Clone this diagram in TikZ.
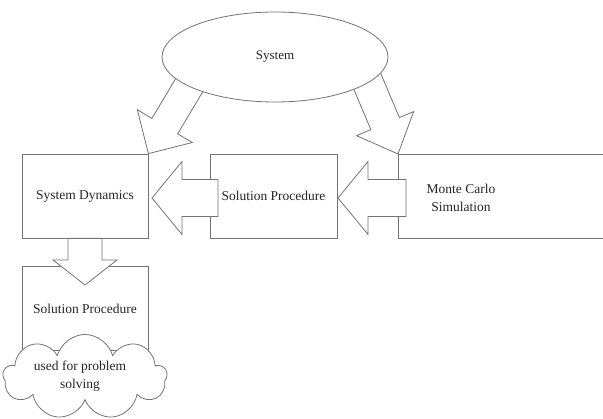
\documentclass[tikz,border=0pt]{standalone}
\usepackage{fontspec}
\setmainfont{Liberation Serif}
\usetikzlibrary{shapes.geometric,shapes.symbols,calc}
\tikzset{
  box/.style = {
    draw=black!55, line width=0.8pt, fill=white,
    minimum width=126, minimum height=84, inner sep=0pt,
    text=black!85, font=\fontsize{13.5}{17}\selectfont
  },
  blockarrow/.style = {draw=black!55, line width=0.8pt, fill=white, line join=miter},
  label/.style = {text=black!85, align=center, inner sep=0pt, font=\fontsize{13.5}{17.5}\selectfont}
}
% block arrow: tail, tip, shaft half width, head half width, head length
\newcommand\blockarr[5]{%
  \coordinate (hb) at ($(#2)!#5!(#1)$);
  \draw[blockarrow] ($(#1)!#3!90:(#2)$) -- ($(hb)!#3!-90:(#1)$)
    -- ($(hb)!#4!-90:(#1)$) -- (#2) -- ($(hb)!#4!90:(#1)$)
    -- ($(hb)!#3!90:(#1)$) -- ($(#1)!#3!-90:(#2)$) -- cycle;
}

\begin{document}
\begin{tikzpicture}[x=1pt,y=-1pt]
  \useasboundingbox (0,0) rectangle (603,419);

  \node[box] (sd) at (85,196) {System Dynamics};
  \node[box,minimum width=127] (sp) at (273.5,196) {Solution Procedure};
  \node[box,minimum width=240,anchor=north west] (mcbox) at (398,154) {};
  \node[label] (mc) at (461,198) {Monte Carlo\\Simulation};
  \node[box,anchor=north] (sp2) at (85,266) {Solution Procedure};

  \coordinate (sp tail) at (218,198);
  \coordinate (sd tip)  at (152,198);
  \coordinate (mc tail) at (406,198);
  \coordinate (sp tip)  at (338,198);
  \coordinate (sys left)  at (193.5,78);
  \coordinate (sys right) at (363.5,72.5);
  \coordinate (sp2 tip) at (85,285);

  \blockarr{sp tail}{sd tip}{18.5pt}{36.5pt}{30pt}
  \blockarr{mc tail}{sp tip}{18.5pt}{36.5pt}{30pt}
  \blockarr{sd.south}{sp2 tip}{17pt}{32pt}{25pt}
  \blockarr{sys left}{sd.north east}{15pt}{32pt}{32pt}
  \blockarr{sys right}{mcbox.north west}{15.5pt}{31pt}{33pt}

  \node[ellipse,draw=black!55,line width=0.8pt,fill=white,minimum width=226,minimum height=90,
    text=black!85,font=\fontsize{13}{15}\selectfont] (sys) at (275,57) {System};

  \node[cloud,cloud puffs=9,aspect=1.9,draw=black!55,line width=0.8pt,fill=white,
    minimum width=164,minimum height=85,inner sep=0pt] (use) at (85,377) {};
  \node[label,font=\fontsize{13.5}{18}\selectfont] (use text) at (80,376) {used for problem\\solving};
\end{tikzpicture}
\end{document}
